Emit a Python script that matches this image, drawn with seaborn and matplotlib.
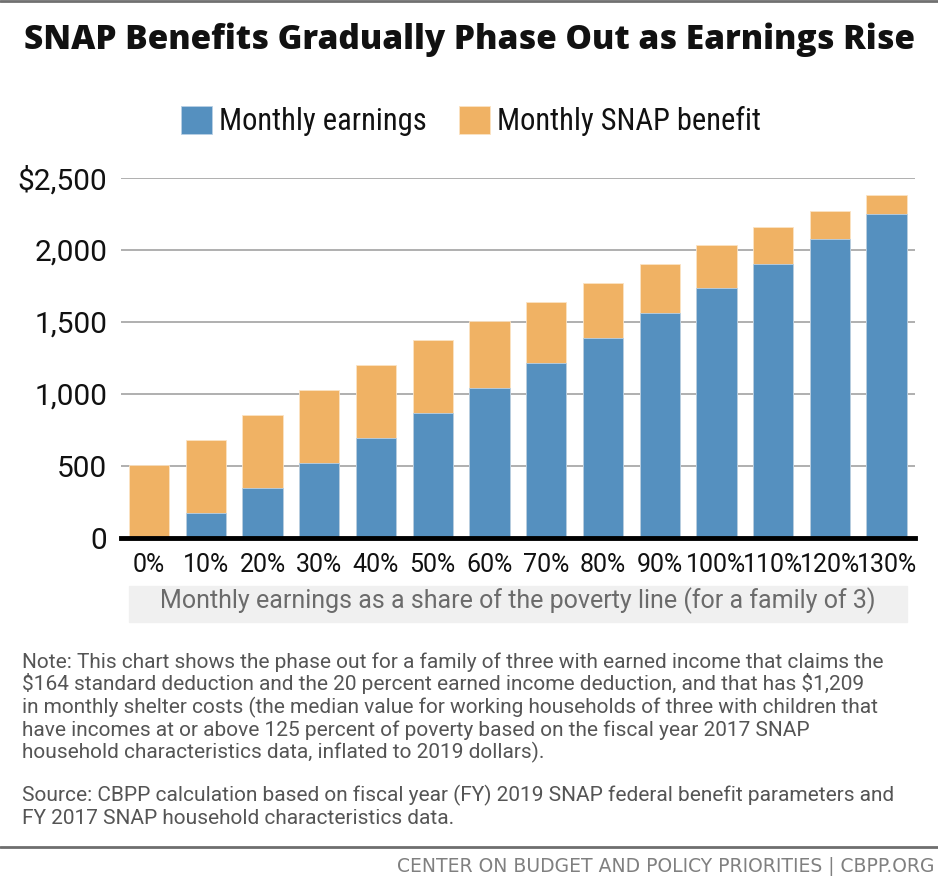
import matplotlib
matplotlib.use("Agg")
import matplotlib.pyplot as plt
from matplotlib.patches import Patch
import seaborn as sns
import pandas as pd

categories = ["0%", "10%", "20%", "30%", "40%", "50%", "60%", "70%", "80%", "90%", "100%", "110%", "120%", "130%"]
earnings = [0, 173, 346, 520, 693, 866, 1039, 1212, 1386, 1559, 1732, 1905, 2078, 2252]
benefit = [505, 505, 505, 505, 505, 505, 470, 429, 387, 346, 304, 256, 193, 131]
yticks = [0, 500, 1000, 1500, 2000, 2500]
ytick_labels = ["0", "500", "1,000", "1,500", "2,000", "$2,500"]

sns.set_theme(style="white")
plt.rcParams["font.family"] = ["Roboto", "DejaVu Sans"]

BLUE = "#5590bf"
ORANGE = "#f0b264"

df = pd.DataFrame({"cat": categories, "earn": earnings,
                   "total": [e + b for e, b in zip(earnings, benefit)]})

W, H = 938, 876
fig = plt.figure(figsize=(W / 100, H / 100), dpi=100)
ax = fig.add_axes([120.7 / W, 1 - 537.7 / H, (915 - 120.7) / W, (537.7 - 178) / H])

sns.barplot(data=df, x="cat", y="total", color=ORANGE, ax=ax, width=0.71,
            saturation=1, edgecolor="#fbe3c4", linewidth=0.6)
sns.barplot(data=df, x="cat", y="earn", color=BLUE, ax=ax, width=0.71,
            saturation=1, edgecolor="#b9d0e5", linewidth=0.6)

ax.set_xlim(-0.5, 13.5)
ax.set_ylim(0, 2500)
ax.set_yticks(yticks)
ax.set_yticklabels(ytick_labels)
ax.yaxis.grid(True, color="#9a9a9a", linewidth=1.1)
ax.set_axisbelow(True)
for s in ["top", "right", "left"]:
    ax.spines[s].set_visible(False)
ax.spines["bottom"].set_color("black")
ax.spines["bottom"].set_linewidth(3.5)
ax.tick_params(axis="y", length=0, labelsize=21.5, pad=9.5, colors="#111111")
ax.tick_params(axis="x", length=0, labelsize=18, pad=11, colors="#111111")
ax.set_xlabel("")
ax.set_ylabel("")

# x label band
fig.patches.append(plt.Rectangle((129.3 / W, 1 - 622.3 / H), (906.7 - 129.3) / W, 36.6 / H,
                                 transform=fig.transFigure, color="#f0f0f0", zorder=0))
fig.text(518 / W, 1 - 608.3 / H, "Monthly earnings as a share of the poverty line (for a family of 3)",
         ha="center", va="baseline", fontsize=18, color="#6b6b6b")

# top rule
fig.add_artist(plt.Line2D([0, 1], [1 - 1 / H, 1 - 1 / H], transform=fig.transFigure,
                          color="#707070", linewidth=2))

# title
fig.text(469 / W, 1 - 49 / H, "SNAP Benefits Gradually Phase Out as Earnings Rise",
         ha="center", va="baseline", fontsize=24, fontweight=800,
         family=["Open Sans", "Roboto", "DejaVu Sans"], color="#111111")

# legend
handles = [Patch(facecolor=BLUE, edgecolor="#b9d0e5", linewidth=0.6, label="Monthly earnings"),
           Patch(facecolor=ORANGE, edgecolor="#fbe3c4", linewidth=0.6, label="Monthly SNAP benefit")]
fig.legend(handles=handles, loc="center", bbox_to_anchor=(471 / W, 1 - 121 / H),
           ncol=2, frameon=False, prop=dict(family=["Roboto Condensed", "Roboto"], size=22),
           handlelength=1.03, handleheight=1.03, handletextpad=0.22, columnspacing=1.05,
           labelcolor="#111111")

note_lines = [
    "Note: This chart shows the phase out for a family of three with earned income that claims the",
    "$164 standard deduction and the 20 percent earned income deduction, and that has $1,209",
    "in monthly shelter costs (the median value for working households of three with children that",
    "have incomes at or above 125 percent of poverty based on the fiscal year 2017 SNAP",
    "household characteristics data, inflated to 2019 dollars).",
]
for i, line in enumerate(note_lines):
    fig.text(22 / W, 1 - (668 + 22.5 * i) / H, line, ha="left", va="baseline",
             fontsize=15, color="#555555", parse_math=False)

source_lines = [
    "Source: CBPP calculation based on fiscal year (FY) 2019 SNAP federal benefit parameters and",
    "FY 2017 SNAP household characteristics data.",
]
for i, line in enumerate(source_lines):
    fig.text(22 / W, 1 - (801 + 22.5 * i) / H, line, ha="left", va="baseline",
             fontsize=15, color="#555555", parse_math=False)

fig.add_artist(plt.Line2D([0, 1], [1 - 846.7 / H, 1 - 846.7 / H], transform=fig.transFigure,
                          color="#6e6e6e", linewidth=2))
fig.text(934 / W, 1 - 872 / H, "CENTER ON BUDGET AND POLICY PRIORITIES | CBPP.ORG",
         ha="right", va="baseline", fontsize=13.5, family=["DejaVu Sans"], color="#808080")

fig.savefig("out.png", dpi=100)
